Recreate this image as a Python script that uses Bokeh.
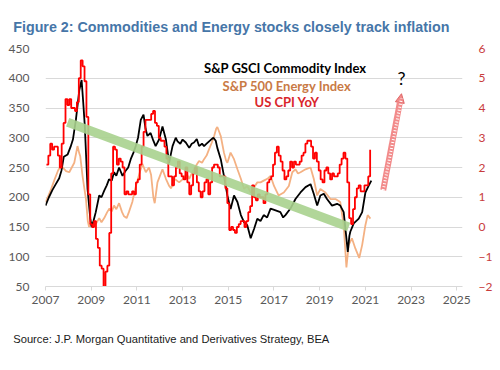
from bokeh.plotting import figure
from bokeh.models import (Range1d, LinearAxis, FixedTicker, Label, Title,
                          Arrow, NormalHead, ColumnDataSource)
from bokeh.embed import file_html
from bokeh.resources import INLINE

# ---------------- data ----------------
cpi_first_year = 2007
cpi_yoy = [
    2.1, 2.4, 2.8, 2.6, 2.7, 2.7, 2.4, 2.0, 2.8, 3.5, 4.3, 4.1,
    4.3, 4.0, 4.0, 3.9, 4.2, 5.0, 5.6, 5.4, 4.9, 3.7, 1.1, 0.1,
    0.0, 0.2, -0.4, -0.7, -1.3, -1.4, -2.1, -1.5, -1.3, -0.2, 1.8, 2.7,
    2.6, 2.1, 2.3, 2.2, 2.0, 1.1, 1.2, 1.1, 1.1, 1.2, 1.1, 1.5,
    1.6, 2.1, 2.7, 3.2, 3.6, 3.6, 3.6, 3.8, 3.9, 3.5, 3.4, 3.0,
    2.9, 2.9, 2.7, 2.3, 1.7, 1.7, 1.4, 1.7, 2.0, 2.2, 1.8, 1.7,
    1.6, 2.0, 1.5, 1.1, 1.4, 1.8, 2.0, 1.5, 1.2, 1.0, 1.2, 1.5,
    1.6, 1.1, 1.5, 2.0, 2.1, 2.1, 2.0, 1.7, 1.7, 1.7, 1.3, 0.8,
    -0.1, 0.0, -0.1, -0.2, 0.0, 0.1, 0.2, 0.2, 0.0, 0.2, 0.5, 0.7,
    1.4, 1.0, 0.9, 1.1, 1.0, 1.0, 0.8, 1.1, 1.5, 1.6, 1.7, 2.1,
    2.5, 2.7, 2.4, 2.2, 1.9, 1.6, 1.7, 1.9, 2.2, 2.0, 2.2, 2.1,
    2.1, 2.2, 2.4, 2.5, 2.8, 2.9, 2.9, 2.7, 2.3, 2.5, 2.2, 1.9,
    1.6, 1.5, 1.9, 2.0, 1.8, 1.6, 1.8, 1.7, 1.7, 1.8, 2.1, 2.3,
    2.5, 2.3, 1.5, 0.3, 0.1, 0.6, 1.0, 1.3, 1.4, 1.2, 1.2, 1.4,
    1.4, 1.7, 2.6,
]

gsci_t = [2007.00, 2007.15, 2007.30, 2007.45, 2007.60, 2007.70, 2007.80, 2007.97,
          2008.10, 2008.20, 2008.33, 2008.48, 2008.58, 2008.65, 2008.72, 2008.84,
          2008.96, 2009.02, 2009.10, 2009.20, 2009.35, 2009.45, 2009.57, 2009.68,
          2009.78, 2009.90, 2010.00, 2010.10, 2010.22, 2010.37, 2010.50, 2010.62,
          2010.73, 2010.85, 2010.95, 2011.05, 2011.17, 2011.29, 2011.38, 2011.46,
          2011.60, 2011.72, 2011.82, 2011.97, 2012.12, 2012.27, 2012.41, 2012.50,
          2012.56, 2012.70, 2012.78, 2012.90, 2013.00, 2013.14, 2013.29, 2013.40,
          2013.50, 2013.62, 2013.72, 2013.85, 2013.94, 2014.05, 2014.16, 2014.28,
          2014.35, 2014.45, 2014.52, 2014.67, 2014.81, 2014.96, 2015.10, 2015.25,
          2015.40, 2015.55, 2015.69, 2015.83, 2015.98, 2016.13, 2016.27, 2016.41,
          2016.55, 2016.70, 2016.85, 2017.07, 2017.28, 2017.40, 2017.50, 2017.72,
          2017.94, 2018.16, 2018.38, 2018.60, 2018.74, 2018.89, 2019.03, 2019.18,
          2019.32, 2019.54, 2019.76, 2019.90, 2020.05, 2020.17, 2020.23, 2020.30,
          2020.34, 2020.49, 2020.71, 2020.86, 2021.00, 2021.14, 2021.26]
gsci = [186, 200, 212, 222, 232, 245, 268, 272,
        285, 297, 330, 380, 397, 360, 320, 214,
        164, 150, 160, 175, 203, 200, 211, 220,
        230, 228, 242, 236, 250, 236, 244, 250,
        264, 275, 286, 300, 330, 339, 315, 303,
        308, 295, 286, 297, 319, 297, 258, 275,
        286, 300, 294, 290, 297, 292, 283, 290,
        292, 298, 286, 290, 286, 290, 294, 298,
        300, 295, 283, 264, 236, 203, 180, 203,
        192, 170, 158, 153, 131, 147, 164, 160,
        170, 166, 181, 178, 175, 166, 170, 181,
        197, 208, 217, 222, 206, 186, 203, 206,
        197, 186, 189, 186, 175, 131, 108, 135,
        142, 156, 164, 175, 208, 219, 228]

energy_t = [2007.00, 2007.10, 2007.25, 2007.40, 2007.55, 2007.68, 2007.80, 2007.90,
            2008.04, 2008.15, 2008.26, 2008.40, 2008.47, 2008.52, 2008.62, 2008.70,
            2008.77, 2008.85, 2008.91, 2009.00, 2009.10, 2009.20, 2009.35, 2009.45,
            2009.57, 2009.70, 2009.80, 2009.90, 2010.00, 2010.10, 2010.22, 2010.35,
            2010.44, 2010.55, 2010.65, 2010.80, 2010.90, 2011.00, 2011.15, 2011.24,
            2011.39, 2011.53, 2011.62, 2011.72, 2011.78, 2011.90, 2012.00, 2012.12,
            2012.27, 2012.41, 2012.50, 2012.63, 2012.75, 2012.85, 2013.00, 2013.07,
            2013.20, 2013.29, 2013.40, 2013.50, 2013.62, 2013.72, 2013.85, 2013.94,
            2014.05, 2014.16, 2014.28, 2014.38, 2014.47, 2014.52, 2014.60, 2014.67,
            2014.81, 2014.90, 2014.96, 2015.10, 2015.25, 2015.40, 2015.55, 2015.69,
            2015.83, 2015.98, 2016.13, 2016.27, 2016.41, 2016.55, 2016.71, 2016.85,
            2017.00, 2017.20, 2017.43, 2017.65, 2017.80, 2017.94, 2018.05, 2018.16,
            2018.38, 2018.60, 2018.74, 2018.89, 2019.03, 2019.25, 2019.47, 2019.69,
            2019.90, 2020.05, 2020.17, 2020.27, 2020.41, 2020.56, 2020.73, 2020.86,
            2021.00, 2021.10, 2021.22]
energy = [192, 200, 214, 230, 245, 253, 248, 244,
          242, 250, 258, 286, 275, 269, 236, 215,
          197, 160, 150, 158, 150, 155, 165, 158,
          165, 175, 181, 176, 186, 180, 190, 175,
          168, 165, 175, 192, 210, 225, 245, 256,
          242, 250, 238, 200, 190, 225, 235, 247,
          231, 219, 215, 231, 228, 225, 230, 236,
          238, 231, 240, 247, 255, 261, 258, 264,
          270, 281, 292, 303, 315, 318, 310, 303,
          275, 262, 258, 275, 264, 247, 231, 214,
          219, 208, 217, 225, 225, 228, 231, 236,
          219, 203, 208, 219, 242, 247, 240, 242,
          247, 250, 231, 203, 214, 208, 197, 197,
          192, 153, 82, 120, 131, 114, 98, 120,
          153, 170, 164]

trend_t = [2007.97, 2020.27]
trend_v = [326, 150]

arrow_t = [2021.78, 2022.58]
arrow_v = [212, 374]

left_ticks = [50, 100, 150, 200, 250, 300, 350, 400, 450]
right_ticks = [-2, -1, 0, 1, 2, 3, 4, 5, 6]
year_ticks = [2007, 2009, 2011, 2013, 2015, 2017, 2019, 2021, 2023, 2025]

legend_lines = ["S&P GSCI  Commodity Index", "S&P 500 Energy Index", "US CPI YoY"]
title_text = "Figure 2: Commodities and Energy stocks closely track inflation"
source_text = "Source: J.P. Morgan Quantitative and Derivatives Strategy, BEA"

# ---------------- layout constants (pixels) ----------------
W, H = 500, 370
FL, FR, FT, FB = 45, 462, 48, 286          # frame edges on the page
X0, X1, Y0, Y1 = 2007, 2025.25, 50, 450     # axis ranges


def px_to_x(px):
    return X0 + (px - FL) * (X1 - X0) / (FR - FL)


def py_to_y(py):
    return Y1 - (py - FT) * (Y1 - Y0) / (FB - FT)


p = figure(width=W, height=H, output_backend="svg", toolbar_location=None,
           x_range=Range1d(X0, X1), y_range=Range1d(Y0, Y1),
           min_border_left=FL, min_border_right=W - FR, min_border_top=FT,
           min_border_bottom=H - FB)
p.extra_y_ranges = {"cpi": Range1d(-2, 6)}
p.outline_line_color = None
p.background_fill_color = "white"
p.border_fill_color = "white"

TICK_FONT = "Lato"
GREY = "#595959"
AXRED = "#c83c3c"

xa = p.xaxis[0]
xa.ticker = FixedTicker(ticks=year_ticks)
xa.axis_line_color = "#d9d9d9"
xa.major_tick_line_color = "#d9d9d9"
xa.major_tick_out = 4
xa.major_tick_in = 0
xa.minor_tick_line_color = None
xa.major_label_standoff = 5
xa.major_label_text_font = TICK_FONT
xa.major_label_text_font_size = "12px"
xa.major_label_text_color = GREY

ya = p.yaxis[0]
ya.ticker = FixedTicker(ticks=left_ticks)
ya.axis_line_color = None
ya.major_tick_line_color = None
ya.minor_tick_line_color = None
ya.major_label_standoff = 10
ya.major_label_text_font = TICK_FONT
ya.major_label_text_font_size = "12px"
ya.major_label_text_color = GREY

ra = LinearAxis(y_range_name="cpi", ticker=FixedTicker(ticks=right_ticks))
ra.axis_line_color = None
ra.major_tick_line_color = None
ra.minor_tick_line_color = None
ra.major_label_standoff = 10
ra.major_label_text_font = TICK_FONT
ra.major_label_text_font_size = "12px"
ra.major_label_text_color = AXRED
p.add_layout(ra, "right")

p.xgrid.grid_line_color = None
p.ygrid.grid_line_color = "#d9d9d9"
p.ygrid.ticker = FixedTicker(ticks=left_ticks)

# ---------------- series ----------------
cpi_t = [cpi_first_year + (i + 0.5) / 12 for i in range(len(cpi_yoy))]
src_cpi = ColumnDataSource(dict(t=cpi_t, v=cpi_yoy))
src_gsci = ColumnDataSource(dict(t=gsci_t, v=gsci))
src_en = ColumnDataSource(dict(t=energy_t, v=energy))

p.line("t", "v", source=src_en, line_color="#f4b183", line_width=1.8)
p.line("t", "v", source=src_gsci, line_color="#000000", line_width=1.8)
p.step("t", "v", source=src_cpi, mode="after", y_range_name="cpi",
       line_color="#ff0000", line_width=1.8)

p.line(trend_t, trend_v, line_color="#a9d18e", line_width=9, line_alpha=0.9,
       line_cap="butt")

# hatched red arrow
p.add_layout(Arrow(x_start=arrow_t[0], y_start=arrow_v[0], x_end=arrow_t[1], y_end=arrow_v[1],
                   line_color="#f28b8b", line_width=6,
                   end=NormalHead(size=9, fill_color="#f28b8b", line_color="#e06666", line_width=1)))
p.add_layout(Arrow(x_start=arrow_t[0], y_start=arrow_v[0], x_end=arrow_t[1], y_end=arrow_v[1] - 8,
                   line_color="white", line_width=3, line_dash="1 2", end=None))

# legend-like texts inside plot
leg_colors = ["#000000", "#c97a45", "#d9262b"]
leg_py = [67, 85, 101]
for txt, c, py in zip(legend_lines, leg_colors, leg_py):
    p.add_layout(Label(x=px_to_x(286.5), y=py_to_y(py), text=txt, text_align="center",
                       text_baseline="middle", text_font="Lato", text_font_style="bold",
                       text_font_size="13px", text_color=c))

p.add_layout(Label(x=px_to_x(401), y=py_to_y(77), text="?", text_align="center",
                   text_baseline="middle", text_font="Lato", text_font_size="18px",
                   text_color="#000000"))

# title and source as plot titles in the side panels
t_top = Title(text=title_text, align="left", offset=12.7 - FL, standoff=27.5,
              text_font="Liberation Sans", text_font_style="bold",
              text_font_size="14.3px", text_color="#4676a8")
p.add_layout(t_top, "above")
t_src = Title(text=source_text, align="left", offset=12.7 - FL, standoff=49,
              text_font="Liberation Sans", text_font_style="normal",
              text_font_size="11.2px", text_color="#1a1a1a")
p.add_layout(t_src, "below")

open("out.html", "w").write(file_html(p, INLINE))
